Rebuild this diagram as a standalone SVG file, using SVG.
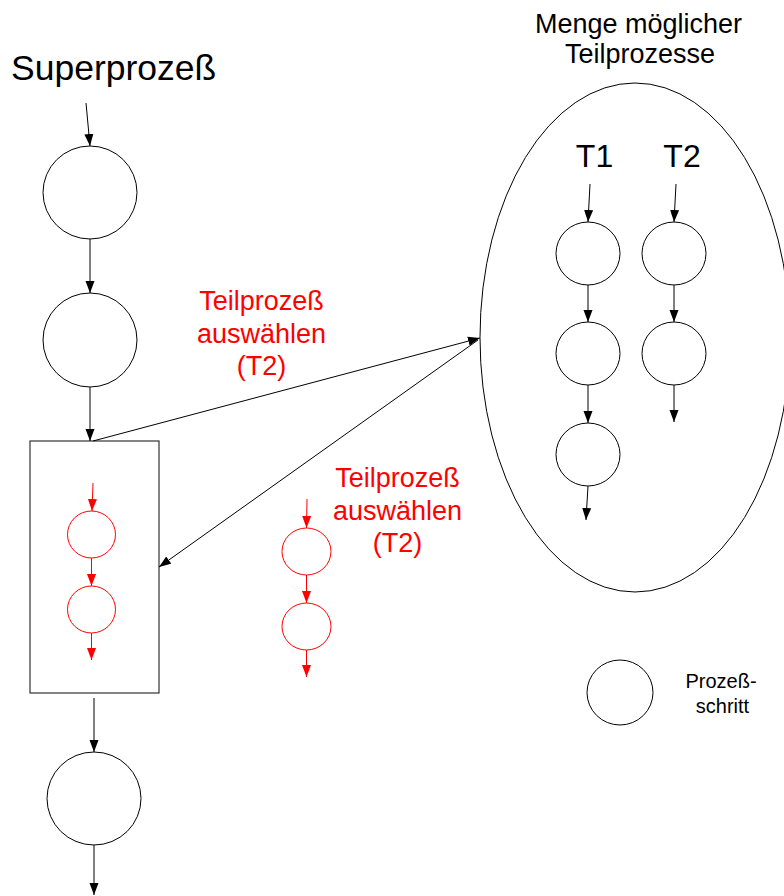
<svg xmlns="http://www.w3.org/2000/svg" width="784" height="896" viewBox="0 0 784 896">
  <defs>
    <marker id="ah" markerUnits="userSpaceOnUse" markerWidth="13" markerHeight="10" refX="12" refY="5" orient="auto">
      <path d="M0,0.5 L12,5 L0,9.5 z" fill="#000"/>
    </marker>
    <marker id="ahr" markerUnits="userSpaceOnUse" markerWidth="13" markerHeight="10" refX="12" refY="5" orient="auto">
      <path d="M0,0.5 L12,5 L0,9.5 z" fill="#ff0000"/>
    </marker>
    <style>
      .step { fill: #fff; stroke: #000; stroke-width: 1; }
      .rstep { fill: none; stroke: #ff0000; stroke-width: 1; }
      .edge { fill: none; stroke: #000; stroke-width: 1; marker-end: url(#ah); }
      .redge { fill: none; stroke: #ff0000; stroke-width: 1; marker-end: url(#ahr); }
      .lbl { font-family: "Liberation Sans", Arial, sans-serif; fill: #000; }
      .rlbl { font-family: "Liberation Sans", Arial, sans-serif; fill: #ff0000; font-size: 27px; text-anchor: middle; }
    </style>
  </defs>
  <rect width="784" height="896" fill="#fff"/>

  <!-- Superprozess chain -->
  <text class="lbl" x="11" y="80" font-size="35.5">Superprozeß</text>
  <g id="sp-step1"><ellipse class="step" cx="90" cy="192.5" rx="47" ry="46.5"/></g>
  <g id="sp-step2"><ellipse class="step" cx="90" cy="340" rx="47" ry="47"/></g>
  <g id="sp-sub">
    <rect x="30" y="441" width="129" height="252" fill="none" stroke="#333" stroke-width="1.2"/>
    <ellipse class="rstep" cx="91.5" cy="534.5" rx="24" ry="23.5"/>
    <ellipse class="rstep" cx="91.5" cy="609.5" rx="24" ry="23.5"/>
  </g>
  <g id="sp-step3"><ellipse class="step" cx="94" cy="798.5" rx="47" ry="46.5"/></g>

  <!-- set of possible sub-processes -->
  <g id="menge">
    <ellipse cx="635" cy="337.5" rx="155" ry="254.5" fill="none" stroke="#000" stroke-width="1"/>
    <text class="lbl" x="638.5" y="33" font-size="27" text-anchor="middle">Menge möglicher</text>
    <text class="lbl" x="640" y="63" font-size="27" text-anchor="middle">Teilprozesse</text>
    <text class="lbl" x="594.5" y="167" font-size="32" text-anchor="middle">T1</text>
    <text class="lbl" x="682" y="167" font-size="32" text-anchor="middle">T2</text>
  </g>
  <g id="t1-step1"><ellipse class="step" cx="588" cy="253.5" rx="32" ry="31.5"/></g>
  <g id="t1-step2"><ellipse class="step" cx="588" cy="353.5" rx="32" ry="31.5"/></g>
  <g id="t1-step3"><ellipse class="step" cx="588" cy="454.5" rx="32" ry="31.5"/></g>
  <g id="t2-step1"><ellipse class="step" cx="674" cy="253.5" rx="32" ry="31.5"/></g>
  <g id="t2-step2"><ellipse class="step" cx="674" cy="353.5" rx="32" ry="31.5"/></g>

  <!-- selected sub-process T2 -->
  <g id="sel-step1"><ellipse class="rstep" cx="306.5" cy="551.5" rx="24.5" ry="23.5"/></g>
  <g id="sel-step2"><ellipse class="rstep" cx="306.5" cy="626.5" rx="24.5" ry="23.5"/></g>

  <!-- labels -->
  <g id="label-select-1">
    <text class="rlbl" x="261.5" y="310">Teilprozeß</text>
    <text class="rlbl" x="261.5" y="343">auswählen</text>
    <text class="rlbl" x="261.5" y="375">(T2)</text>
  </g>
  <g id="label-select-2">
    <text class="rlbl" x="397.5" y="487">Teilprozeß</text>
    <text class="rlbl" x="397.5" y="520">auswählen</text>
    <text class="rlbl" x="397.5" y="552">(T2)</text>
  </g>

  <!-- legend -->
  <g id="legend">
    <ellipse class="step" cx="620" cy="692.5" rx="33" ry="32.5"/>
    <text class="lbl" x="721" y="688" font-size="20" text-anchor="middle">Prozeß-</text>
    <text class="lbl" x="722.5" y="713" font-size="20" text-anchor="middle">schritt</text>
  </g>

  <!-- connectors -->
  <g id="connectors">
    <line class="edge" x1="86" y1="103" x2="90" y2="146"/>
    <line class="edge" x1="90" y1="239" x2="90" y2="293"/>
    <line class="edge" x1="90" y1="387" x2="90" y2="441"/>
    <line class="edge" x1="94" y1="698" x2="94" y2="752"/>
    <line class="edge" x1="94" y1="845" x2="94" y2="895"/>
    <line class="edge" x1="93" y1="441" x2="480" y2="338"/>
    <line class="edge" x1="478" y1="340" x2="159" y2="567"/>

    <line class="redge" x1="93" y1="483" x2="92" y2="511"/>
    <line class="redge" x1="91.5" y1="558" x2="91.5" y2="586"/>
    <line class="redge" x1="91.5" y1="633" x2="91.5" y2="660"/>
    <line class="redge" x1="307" y1="499" x2="306.5" y2="528"/>
    <line class="redge" x1="306.5" y1="575" x2="306.5" y2="603"/>
    <line class="redge" x1="306.5" y1="650" x2="306.5" y2="677"/>

    <line class="edge" x1="590" y1="184" x2="588" y2="222"/>
    <line class="edge" x1="588" y1="285" x2="588" y2="322"/>
    <line class="edge" x1="588" y1="385" x2="588" y2="423"/>
    <line class="edge" x1="588" y1="486" x2="586" y2="520"/>
    <line class="edge" x1="676" y1="184" x2="674" y2="222"/>
    <line class="edge" x1="674" y1="285" x2="674" y2="322"/>
    <line class="edge" x1="674" y1="385" x2="674" y2="422"/>
  </g>
</svg>
